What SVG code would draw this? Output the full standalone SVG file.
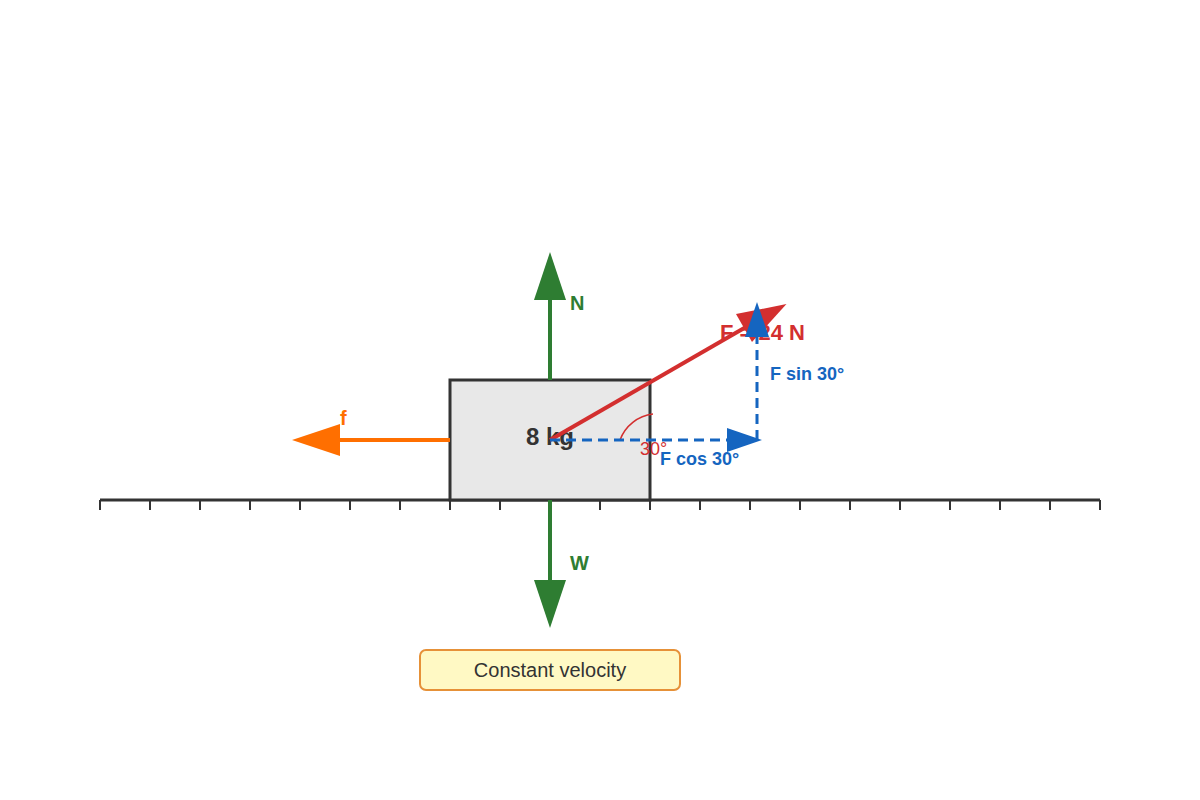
<svg xmlns="http://www.w3.org/2000/svg" width="1200" height="800" viewBox="0 0 1200 800">
  <style>
    text { font-family: "Liberation Sans", Arial, sans-serif; }
    .tick { stroke: #333; stroke-width: 2; }
    .green { fill: #2e7d32; }
    .lbl { font-weight: bold; }
    .dash { stroke: #1565c0; stroke-width: 3; stroke-dasharray: 10 6; fill: none; }
  </style>
  <rect x="0" y="0" width="1200" height="800" fill="#ffffff"/>
  <g id="ground">
    <line x1="100" y1="500" x2="1100" y2="500" stroke="#333" stroke-width="3"/>
    <path class="tick" d="M100 500V510M150 500V510M200 500V510M250 500V510M300 500V510M350 500V510M400 500V510M450 500V510M500 500V510M550 500V510M600 500V510M650 500V510M700 500V510M750 500V510M800 500V510M850 500V510M900 500V510M950 500V510M1000 500V510M1050 500V510M1100 500V510"/>
  </g>
  <g id="block">
    <rect x="450" y="380" width="200" height="120" fill="#e8e8e8" stroke="#333" stroke-width="3"/>
    <text x="550" y="445" font-size="24" font-weight="bold" fill="#333" text-anchor="middle">8 kg</text>
  </g>
  <g id="connectors">
    <g id="normal-force">
      <line x1="550" y1="380" x2="550" y2="298" stroke="#2e7d32" stroke-width="4"/>
      <polygon class="green" points="550,252 566,300 534,300"/>
      <text x="570" y="310" font-size="20" class="lbl" fill="#2e7d32">N</text>
    </g>
    <g id="weight">
      <line x1="550" y1="500" x2="550" y2="582" stroke="#2e7d32" stroke-width="4"/>
      <polygon class="green" points="550,628 566,580 534,580"/>
      <text x="570" y="570" font-size="20" class="lbl" fill="#2e7d32">W</text>
    </g>
    <g id="friction">
      <line x1="450" y1="440" x2="338" y2="440" stroke="#ff6f00" stroke-width="4"/>
      <polygon fill="#ff6f00" points="292,440 340,424 340,456"/>
      <text x="340" y="425" font-size="20" class="lbl" fill="#ff6f00">f</text>
    </g>
    <g id="applied-force">
      <line x1="550" y1="440" x2="746" y2="327" stroke="#d32f2f" stroke-width="4"/>
      <polygon fill="#d32f2f" points="786.5,304 752,341.9 736,314.1"/>
      <path d="M 620 440 A 40 40 0 0 1 653 414" fill="none" stroke="#d32f2f" stroke-width="1.5"/>
      <text x="640" y="455" font-size="18" fill="#d32f2f">30°</text>
      <text x="720" y="340" font-size="22" class="lbl" fill="#d32f2f">F = 24 N</text>
    </g>
    <g id="components">
      <line class="dash" x1="550" y1="440" x2="728" y2="440"/>
      <polygon fill="#1565c0" points="762,440 727,428 727,452"/>
      <line class="dash" x1="757" y1="440" x2="757" y2="336"/>
      <polygon fill="#1565c0" points="757,302 769,337 745,337"/>
      <text x="660" y="465" font-size="18" class="lbl" fill="#1565c0">F cos 30°</text>
      <text x="770" y="380" font-size="18" class="lbl" fill="#1565c0">F sin 30°</text>
    </g>
  </g>
  <g id="note">
    <rect x="420" y="650" width="260" height="40" rx="6" fill="#fff9c4" stroke="#e69138" stroke-width="2"/>
    <text x="550" y="677" font-size="20" fill="#333" text-anchor="middle">Constant velocity</text>
  </g>
</svg>
